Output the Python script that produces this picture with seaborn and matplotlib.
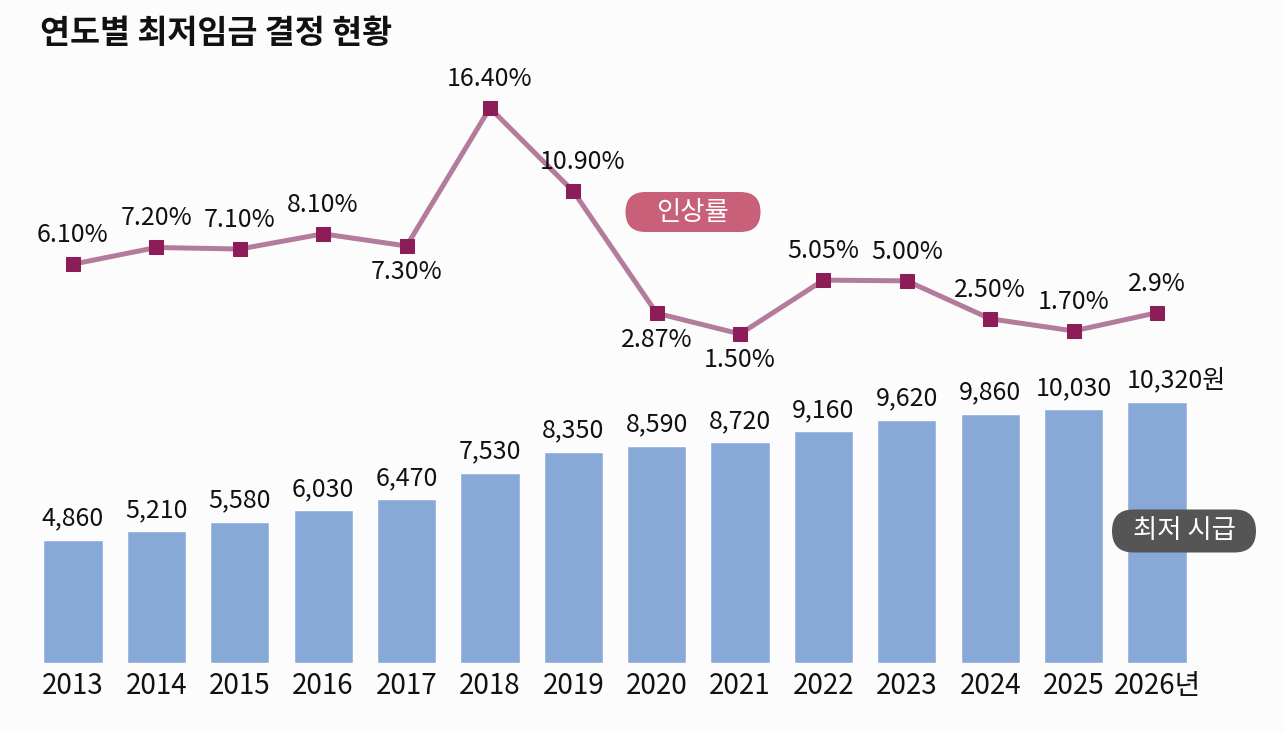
import numpy as np
import matplotlib
matplotlib.use("Agg")
import matplotlib.pyplot as plt
import matplotlib.patches as mpatches
from matplotlib.transforms import IdentityTransform
import seaborn as sns

# data
years = ['2013', '2014', '2015', '2016', '2017', '2018', '2019',
         '2020', '2021', '2022', '2023', '2024', '2025', '2026']
wages = [4860, 5210, 5580, 6030, 6470, 7530, 8350,
         8590, 8720, 9160, 9620, 9860, 10030, 10320]
rates = [6.10, 7.20, 7.10, 8.10, 7.30, 16.40, 10.90,
         2.87, 1.50, 5.05, 5.00, 2.50, 1.70, 2.9]
rate_labels = ['6.10%', '7.20%', '7.10%', '8.10%', '7.30%', '16.40%', '10.90%',
               '2.87%', '1.50%', '5.05%', '5.00%', '2.50%', '1.70%', '2.9%']
year_labels = years[:-1] + ['2026년']
wage_labels = [f'{w:,}' for w in wages[:-1]] + [f'{wages[-1]:,}원']
labels_below = {'2017', '2020', '2021'}

bg = '#fcfcfc'
bar_color = '#88a8d8'
line_color = '#b47c9c'
marker_color = '#8c1d58'

sns.set_theme(style='white')
plt.rcParams['font.family'] = ['Noto Sans CJK KR', 'DejaVu Sans']

W, H = 1284, 733
fig = plt.figure(figsize=(W / 100, H / 100), dpi=100, facecolor=bg)
ax = fig.add_axes([31.3 / W, 70 / H, 1167.4 / W, 603 / H])
ax.set_facecolor('none')

sns.barplot(x=years, y=wages, color=bar_color, width=0.71, saturation=1, ax=ax)
ax.set_ylim(0, 23843)
for i, lab in enumerate(wage_labels):
    # the unit suffix on the last label pushes it to the right
    dx = 14 if i == len(wages) - 1 else 0
    ax.annotate(lab, (i, wages[i]), xytext=(dx, 6), textcoords='offset points',
                ha='center', va='bottom', fontsize=18, color='#111111')

ax2 = ax.twinx()
sns.lineplot(x=np.arange(len(years)), y=rates, ax=ax2, color=line_color, lw=3.6,
             marker='s', markersize=10, markerfacecolor=marker_color,
             markeredgecolor=marker_color)
ax2.set_ylim(-20.19, 19.56)
for i, lab in enumerate(rate_labels):
    dy = -19 if years[i] in labels_below else 21
    dx = 7 if years[i] == '2019' else 0
    ax2.annotate(lab, (i, rates[i]), xytext=(dx, dy), textcoords='offset points',
                 ha='center', va='center', fontsize=18, color='#111111')

ax.set_xlim(-0.5, len(years) - 0.5)
for a in (ax, ax2):
    a.set_yticks([])
    a.set_ylabel('')
    a.set_xlabel('')
    for s in a.spines.values():
        s.set_visible(False)
ax.set_xticks(range(len(years)))
ax.set_xticklabels(year_labels, fontsize=20, color='#111111')
ax.tick_params(axis='x', length=0, pad=6)

# pill labels (pixel coordinates, origin bottom-left)
def pill(cx, cy, w, h, color, text):
    patch = mpatches.FancyBboxPatch((cx - w / 2, H - cy - h / 2), w, h,
                                    boxstyle=f'round,pad=0,rounding_size={h / 2}',
                                    transform=IdentityTransform(), facecolor=color,
                                    edgecolor='none', zorder=5)
    fig.patches.append(patch)
    fig.text(cx / W, 1 - cy / H, text, ha='center', va='center', fontsize=19,
             color='white', zorder=6)

pill(693, 212, 135, 40, '#c8607a', '인상률')
pill(1184, 531, 144, 43, '#555555', '최저 시급')

fig.text(40 / W, 1 - 34 / H, '연도별 최저임금 결정 현황', ha='left', va='center',
         fontsize=23.5, fontweight='bold', color='#111111')

fig.savefig('out.png', dpi=100, facecolor=bg)
